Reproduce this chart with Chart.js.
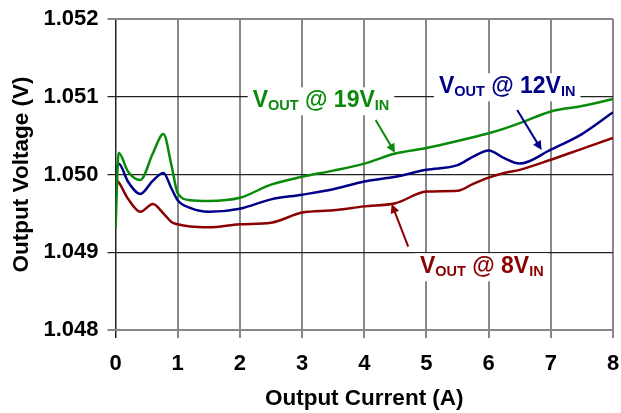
<!DOCTYPE html>
<html>
<head>
<meta charset="utf-8">
<script src="https://cdn.jsdelivr.net/npm/chart.js@4/dist/chart.umd.min.js"></script>
<style>
  html, body { margin: 0; padding: 0; background: #fff; }
  #wrap { width: 621px; height: 413px; }
</style>
</head>
<body>
<div id="wrap"><canvas id="vout-chart" width="621" height="413"></canvas></div>
<script>
// output current (A)
const currentA = [0, 0.05, 0.2, 0.4, 0.6, 0.77, 0.9, 1.0, 1.2, 1.5, 2, 2.5, 3, 3.5, 4, 4.5, 5, 5.5, 5.75, 6, 6.25, 6.5, 7, 7.5, 8];

// output voltage (V) for each input voltage
const vout19 = [1.04929, 1.05028, 1.05004, 1.04993, 1.05027, 1.05052, 1.05012, 1.04976, 1.04967, 1.04966, 1.04970, 1.04987, 1.04997, 1.05005, 1.05014, 1.05027, 1.05034, 1.05043, 1.05048, 1.05053, 1.05059, 1.05066, 1.05081, 1.05088, 1.05097];
const vout12 = [1.05002, 1.05014, 1.04991, 1.04975, 1.04992, 1.05002, 1.04982, 1.04967, 1.04957, 1.04952, 1.04956, 1.04968, 1.04974, 1.04981, 1.04991, 1.04997, 1.05006, 1.05012, 1.05023, 1.05031, 1.05021, 1.05014, 1.05032, 1.05052, 1.05080];
const vout8  = [1.04993, 1.04990, 1.04969, 1.04952, 1.04962, 1.04950, 1.04939, 1.04936, 1.04933, 1.04932, 1.04936, 1.04938, 1.04951, 1.04954, 1.04959, 1.04963, 1.04978, 1.04979, 1.04988, 1.04996, 1.05002, 1.05006, 1.05019, 1.05033, 1.05047];

const xTicks = [0, 1, 2, 3, 4, 5, 6, 7, 8];
const yTicks = [1.048, 1.049, 1.050, 1.051, 1.052];

const seriesNames  = ['19', '12', '8'];
const seriesColors = ['#0a8a0a', '#000088', '#8b0000'];

// callouts: text anchor + arrow (tail -> head), in data units
const calloutAt    = [[2.206, 1.050864], [5.20, 1.051044], [4.895, 1.048729]];
const arrowTail    = [[4.183, 1.050701], [6.46, 1.050830], [4.707, 1.049071]];
const arrowHead    = [[4.494, 1.050280], [6.852, 1.050315], [4.441, 1.049621]];

const toPts = ys => ys.map((y, i) => ({ x: currentA[i], y }));

const BIG = 'bold 23px "Liberation Sans", Arial, sans-serif';
const SUB = 'bold 14.5px "Liberation Sans", Arial, sans-serif';

function drawCallout(ctx, x, y, vin, color) {
  const parts = [['V', BIG, 0], ['OUT', SUB, 3], [' @ ' + vin + 'V', BIG, 0], ['IN', SUB, 3]];
  let w = 0;
  parts.forEach(([t, f]) => { ctx.font = f; w += ctx.measureText(t).width; });
  ctx.fillStyle = '#fff';
  ctx.fillRect(x - 5, y - 20, w + 10, 28);
  let cx = x;
  ctx.fillStyle = color;
  ctx.textBaseline = 'alphabetic';
  ctx.textAlign = 'left';
  parts.forEach(([t, f, dy]) => {
    ctx.font = f;
    ctx.fillText(t, cx, y + dy);
    cx += ctx.measureText(t).width;
  });
}

function drawArrow(ctx, x1, y1, x2, y2, color) {
  const ang = Math.atan2(y2 - y1, x2 - x1), L = 9, W = 4.5;
  ctx.strokeStyle = color; ctx.fillStyle = color; ctx.lineWidth = 2;
  ctx.beginPath(); ctx.moveTo(x1, y1);
  ctx.lineTo(x2 - Math.cos(ang) * L * 0.8, y2 - Math.sin(ang) * L * 0.8); ctx.stroke();
  ctx.beginPath();
  ctx.moveTo(x2, y2);
  ctx.lineTo(x2 - L * Math.cos(ang) + W * Math.sin(ang), y2 - L * Math.sin(ang) - W * Math.cos(ang));
  ctx.lineTo(x2 - L * Math.cos(ang) - W * Math.sin(ang), y2 - L * Math.sin(ang) + W * Math.cos(ang));
  ctx.closePath(); ctx.fill();
}

const calloutPlugin = {
  id: 'callouts',
  afterDatasetsDraw(chart) {
    const { ctx, scales: { x, y } } = chart;
    ctx.save();
    seriesNames.forEach((vin, i) => {
      drawCallout(ctx, x.getPixelForValue(calloutAt[i][0]), y.getPixelForValue(calloutAt[i][1]), vin, seriesColors[i]);
      drawArrow(ctx,
        x.getPixelForValue(arrowTail[i][0]), y.getPixelForValue(arrowTail[i][1]),
        x.getPixelForValue(arrowHead[i][0]), y.getPixelForValue(arrowHead[i][1]), seriesColors[i]);
    });
    ctx.restore();
  }
};

const FONT = { family: '"Liberation Sans", Arial, sans-serif', weight: 'bold' };

new Chart(document.getElementById('vout-chart'), {
  type: 'line',
  data: {
    datasets: [vout19, vout12, vout8].map((ys, i) => ({
      label: 'VOUT @ ' + seriesNames[i] + 'VIN',
      data: toPts(ys),
      borderColor: seriesColors[i],
      borderWidth: 2.5,
      pointRadius: 0,
      cubicInterpolationMode: 'monotone',
      fill: false
    }))
  },
  options: {
    responsive: false,
    animation: false,
    layout: { padding: { top: 19, right: 8, left: 0, bottom: 0 } },
    plugins: { legend: { display: false }, tooltip: { enabled: false } },
    scales: {
      x: {
        type: 'linear', min: 0, max: 8,
        afterBuildTicks: s => { s.ticks = xTicks.map(v => ({ value: v })); },
        afterFit: s => { s.height = 83; s.paddingRight = 0; s.paddingLeft = 0; },
        grid: {
          color: c => c.tick && c.tick.value === 0 ? '#222' : '#888',
          lineWidth: c => c.tick && c.tick.value === 0 ? 1.5 : 2,
          tickLength: 8
        },
        border: { display: false },
        ticks: { color: '#000', font: { ...FONT, size: 22 }, padding: 13 },
        title: { display: true, text: 'Output Current (A)', color: '#000', font: { ...FONT, size: 22.5 }, padding: { top: 0, bottom: 1 } }
      },
      y: {
        type: 'linear', min: 1.048, max: 1.052,
        afterBuildTicks: s => { s.ticks = yTicks.map(v => ({ value: v })); },
        afterFit: s => { s.width = 115.5; s.paddingTop = 0; s.paddingBottom = 0; },
        grid: {
          color: c => c.tick && (c.tick.value === 1.048 || c.tick.value === 1.052) ? '#888' : '#222',
          lineWidth: c => c.tick && (c.tick.value === 1.048 || c.tick.value === 1.052) ? 2 : 1.2,
          tickLength: 8
        },
        border: { display: false },
        ticks: { color: '#000', font: { ...FONT, size: 22 }, padding: 9, callback: v => v.toFixed(3) },
        title: { display: true, text: 'Output Voltage (V)', color: '#000', font: { ...FONT, size: 22.5 }, padding: { top: 8, bottom: 0 } }
      }
    }
  },
  plugins: [calloutPlugin]
});
</script>
</body>
</html>
